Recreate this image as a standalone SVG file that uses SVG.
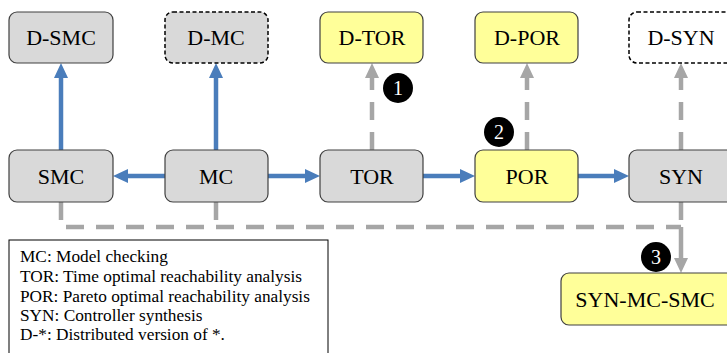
<svg xmlns="http://www.w3.org/2000/svg" width="727" height="353" viewBox="0 0 727 353">
<style>
.box{stroke:#404040;stroke-width:1.2}
.gray{fill:#d9d9d9}
.yel{fill:#ffff99}
.dash{fill:#ffffff;stroke:#000;stroke-width:1.5;stroke-dasharray:4 2.5}
.dashg{fill:#d9d9d9;stroke:#000;stroke-width:1.5;stroke-dasharray:4 2.5}
.lbl{font-size:22px;fill:#000;text-anchor:middle}
.leg{font-size:17.3px;fill:#000}
.num{font-size:20px;fill:#fff;text-anchor:middle}
.blue{stroke:#4a7dbb;stroke-width:4.5;fill:none;marker-end:url(#ab)}
.gl{stroke:#a6a6a6;stroke-width:4.5;fill:none;stroke-dasharray:18 12}
.ga{marker-end:url(#ag)}
</style>
<defs>
<marker id="ab" markerUnits="userSpaceOnUse" viewBox="0 -7 15 14" markerWidth="15" markerHeight="14" refX="0" refY="0" orient="auto">
<path d="M0,-7 L15,0 L0,7 z" fill="#4a7dbb"/>
</marker>
<marker id="ag" markerUnits="userSpaceOnUse" viewBox="0 -7 15 14" markerWidth="15" markerHeight="14" refX="0" refY="0" orient="auto">
<path d="M0,-7 L15,0 L0,7 z" fill="#a6a6a6"/>
</marker>
</defs>
<g id="connectors">
<line class="blue" x1="61" y1="150" x2="61" y2="78"/>
<line class="blue" x1="216" y1="150" x2="216" y2="78"/>
<line class="blue" x1="165" y1="176" x2="128" y2="176"/>
<line class="blue" x1="268" y1="176" x2="305" y2="176"/>
<line class="blue" x1="423" y1="176" x2="460" y2="176"/>
<line class="blue" x1="578" y1="176" x2="614" y2="176"/>
<line class="gl ga" x1="372" y1="150" x2="372" y2="78"/>
<line class="gl ga" x1="527" y1="150" x2="527" y2="78"/>
<line class="gl ga" x1="681" y1="150" x2="681" y2="78"/>
<path class="gl" d="M61,202 V227 H681"/>
<line class="gl" x1="216" y1="202" x2="216" y2="227"/>
<line class="gl" x1="681" y1="202" x2="681" y2="227"/>
<line class="gl ga" x1="681" y1="227" x2="681" y2="258" stroke-dasharray="none" style="stroke-dasharray:none"/>
</g>
<g font-family="Liberation Serif">
<g id="D-SMC"><rect class="box gray" x="9" y="12" width="104" height="51" rx="8"/><text class="lbl" x="61" y="45">D-SMC</text></g>
<g id="D-MC"><rect class="dashg" x="165" y="12" width="103" height="51" rx="8"/><text class="lbl" x="216" y="45">D-MC</text></g>
<g id="D-TOR"><rect class="box yel" x="320" y="12" width="103" height="51" rx="8"/><text class="lbl" x="372" y="45">D-TOR</text></g>
<g id="D-POR"><rect class="box yel" x="475" y="12" width="103" height="51" rx="8"/><text class="lbl" x="527" y="45">D-POR</text></g>
<g id="D-SYN"><rect class="dash" x="629" y="12" width="106" height="51" rx="8"/><text class="lbl" x="681" y="45">D-SYN</text></g>
<g id="SMC"><rect class="box gray" x="9" y="150" width="104" height="52" rx="8"/><text class="lbl" x="61" y="184">SMC</text></g>
<g id="MC"><rect class="box gray" x="165" y="150" width="103" height="52" rx="8"/><text class="lbl" x="216" y="184">MC</text></g>
<g id="TOR"><rect class="box gray" x="320" y="150" width="103" height="52" rx="8"/><text class="lbl" x="372" y="184">TOR</text></g>
<g id="POR"><rect class="box yel" x="475" y="150" width="103" height="52" rx="8"/><text class="lbl" x="527" y="184">POR</text></g>
<g id="SYN"><rect class="box gray" x="629" y="150" width="106" height="52" rx="8"/><text class="lbl" x="681" y="184">SYN</text></g>
<g id="SYN-MC-SMC"><rect class="box yel" x="561" y="273" width="175" height="52" rx="8"/><text class="lbl" x="645" y="307">SYN-MC-SMC</text></g>
<g id="badge1"><circle cx="398" cy="88" r="15" fill="#000"/><text class="num" x="398" y="95">1</text></g>
<g id="badge2"><circle cx="499" cy="132" r="15" fill="#000"/><text class="num" x="499" y="139">2</text></g>
<g id="badge3"><circle cx="656" cy="257" r="15" fill="#000"/><text class="num" x="656" y="264">3</text></g>
<g id="legend">
<rect x="9" y="240" width="319" height="130" fill="#fff" stroke="#000" stroke-width="1"/>
<text class="leg" x="20" y="262">MC: Model checking</text>
<text class="leg" x="20" y="282">TOR: Time optimal reachability analysis</text>
<text class="leg" x="20" y="302">POR: Pareto optimal reachability analysis</text>
<text class="leg" x="20" y="321">SYN: Controller synthesis</text>
<text class="leg" x="20" y="340">D-*: Distributed version of *.</text>
</g>
</g>
</svg>
